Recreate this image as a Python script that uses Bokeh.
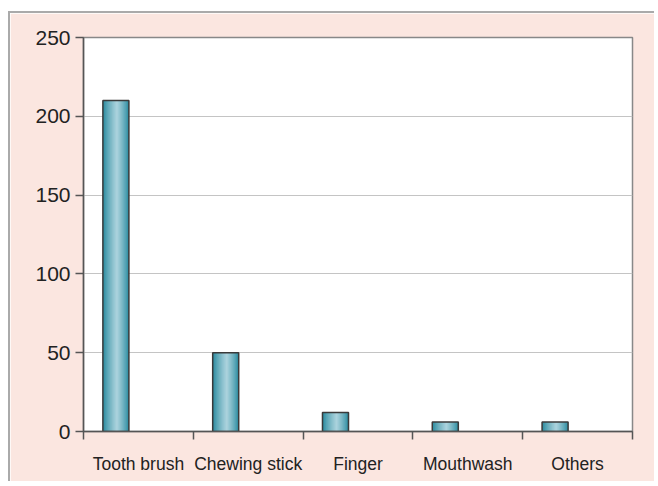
import numpy as np
from bokeh.plotting import figure
from bokeh.models import Range1d, FixedTicker
from bokeh.embed import file_html
from bokeh.resources import INLINE

categories = ["Tooth brush", "Chewing stick", "Finger", "Mouthwash", "Others"]
counts = [210, 50, 12, 6, 6]
y_ticks = [0, 50, 100, 150, 200, 250]

n = len(categories)
PINK = "#fbe6e0"

p = figure(width=646, height=470, output_backend="svg", toolbar_location=None,
           x_range=Range1d(0, n), y_range=Range1d(0, 250),
           min_border_left=73, min_border_right=24, min_border_top=24, min_border_bottom=52)
p.border_fill_color = PINK
p.background_fill_color = "white"
p.outline_line_color = "#888888"
p.outline_line_width = 1.5
p.styles = {"border-top": "2px solid #aaaaaa", "border-left": "2px solid #aaaaaa",
            "margin-left": "8px", "margin-top": "11px"}

# gradient bars via nested (widest first) bars
bar_center = 0.295
bar_w = 0.237
N = 20
base_x = np.arange(n) + bar_center
edge = np.array([40, 138, 158])
light = np.array([176, 214, 224])
for k in range(N):
    frac = 1 - k / N          # width fraction, 1 -> small
    t = (1 - frac) ** 0.8
    c = edge + (light - edge) * t
    col = "#%02x%02x%02x" % tuple(int(v) for v in c)
    xs = base_x + 0.04 * bar_w * (1 - frac)
    p.vbar(x=xs, top=counts, width=bar_w * frac, bottom=0,
           fill_color=col, line_color=None)
p.vbar(x=base_x, top=counts, width=bar_w, bottom=0, fill_alpha=0,
       line_color="#3a3a3a", line_width=1.5)

# axes
ax = p.xaxis[0]
ax.ticker = FixedTicker(ticks=[i + 0.5 for i in range(n)], minor_ticks=list(range(n + 1)))
ax.major_label_overrides = {i + 0.5: categories[i] for i in range(n)}
ax.major_tick_out = 0
ax.major_tick_in = 0
ax.minor_tick_out = 8
ax.minor_tick_in = 0
ax.minor_tick_line_color = "#555555"
ax.minor_tick_line_width = 1.5
ax.major_label_standoff = 14
ax.axis_line_color = "#555555"
ax.axis_line_width = 1.5
ax.major_label_text_font = "Liberation Sans"
ax.major_label_text_font_size = "17.5px"
ax.major_label_text_color = "#222222"

ay = p.yaxis[0]
ay.ticker = FixedTicker(ticks=y_ticks)
ay.major_tick_out = 8
ay.major_tick_in = 0
ay.minor_tick_out = 0
ay.minor_tick_in = 0
ay.major_tick_line_color = "#555555"
ay.major_tick_line_width = 1.5
ay.axis_line_color = "#555555"
ay.axis_line_width = 1.5
ay.major_label_standoff = 5
ay.major_label_text_font = "Liberation Sans"
ay.major_label_text_font_size = "21px"
ay.major_label_text_color = "#222222"

p.xgrid.grid_line_color = None
p.ygrid.grid_line_color = "#c4c4c4"
p.ygrid.grid_line_width = 1.2

open("out.html", "w").write(file_html(p, INLINE))
